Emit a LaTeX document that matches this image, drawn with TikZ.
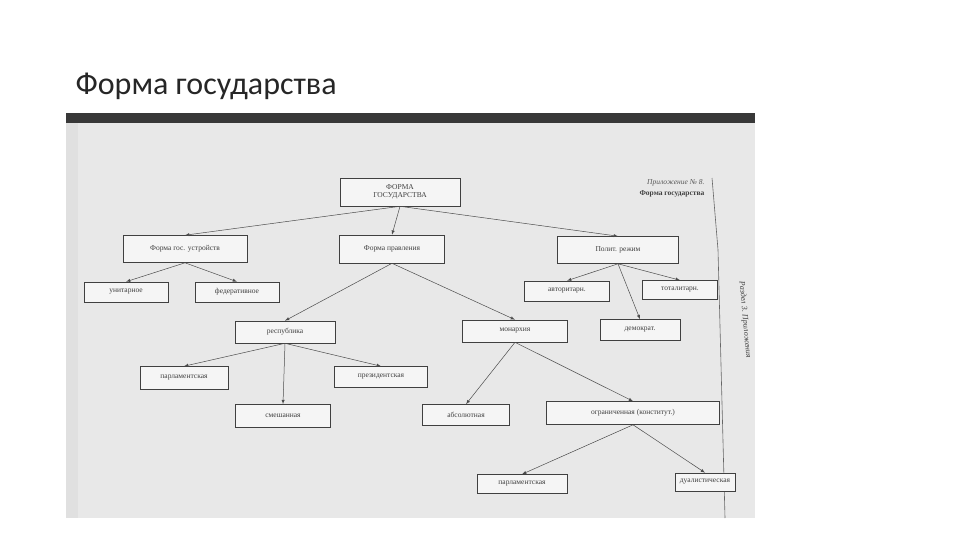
\documentclass[tikz,border=0pt]{standalone}
\usepackage{fontspec}
\setmainfont{Liberation Serif}
\newfontfamily\titlefont{Carlito}
\begin{document}
\begin{tikzpicture}[x=1pt,y=-1pt,
  bx/.style={draw=black!75,line width=0.6pt,fill=black!4,inner sep=0pt,font=\fontsize{7.5}{8.5}\selectfont,text=black!75},
  ar/.style={->,>=latex,draw=black!70,line width=0.5pt}]
\useasboundingbox (0,0) rectangle (960,540);
\fill[white] (0,0) rectangle (960,540);
\node[anchor=base west,font=\titlefont\fontsize{32}{36}\selectfont,text=black!85] (title) at (72,95) {Форма государства};
% photo
\fill[black!78] (66,113) rectangle (755,123);
\fill[black!9] (66,123) rectangle (755,518);
\fill[black!12] (66,123) rectangle (78,518);
\draw[black!60,line width=0.6pt] (712,178) -- (718,250) -- (725,518);
\node[rotate=-85,font=\fontsize{8}{9}\itshape\selectfont,text=black!75] (rz) at (745,320) {Раздел 3. Приложения};
\node[anchor=east,font=\fontsize{7.5}{9}\itshape\selectfont,text=black!65] (pr) at (708,183) {Приложение № 8.};
\node[anchor=east,font=\fontsize{7.5}{9}\bfseries\selectfont,text=black!75] (pf) at (708,194) {Форма государства};
% boxes
\node[bx,minimum width=120pt,minimum height=28pt,align=center] (root) at (400,192) {ФОРМА\\ГОСУДАРСТВА};
\node[bx,minimum width=124pt,minimum height=27pt] (f1) at (185,249) {Форма гос. устройств};
\node[bx,minimum width=105pt,minimum height=28pt] (f2) at (392,249) {Форма правления};
\node[bx,minimum width=121pt,minimum height=27pt] (f3) at (618,250) {Полит. режим};
\node[bx,minimum width=84pt,minimum height=20pt] (u) at (126,292) {унитарное};
\node[bx,minimum width=84pt,minimum height=20pt] (fed) at (237,292) {федеративное};
\node[bx,minimum width=85pt,minimum height=20pt] (avt) at (567,291) {авторитарн.};
\node[bx,minimum width=75pt,minimum height=19pt] (tot) at (680,290) {тоталитарн.};
\node[bx,minimum width=100pt,minimum height=22pt] (resp) at (285,332) {республика};
\node[bx,minimum width=105pt,minimum height=22pt] (mon) at (515,331) {монархия};
\node[bx,minimum width=80pt,minimum height=21pt] (dem) at (640,330) {демократ.};
\node[bx,minimum width=88pt,minimum height=23pt] (parl1) at (184,378) {парламентская};
\node[bx,minimum width=93pt,minimum height=21pt] (pres) at (381,377) {президентская};
\node[bx,minimum width=95pt,minimum height=23pt] (sm) at (283,416) {смешанная};
\node[bx,minimum width=87pt,minimum height=21pt] (abs) at (466,415) {абсолютная};
\node[bx,minimum width=173pt,minimum height=23pt] (ogr) at (633,413) {ограниченная (конститут.)};
\node[bx,minimum width=90pt,minimum height=19pt] (parl2) at (522,484) {парламентская};
\node[bx,minimum width=60pt,minimum height=18pt] (dual) at (705,482) {дуалистическая};
% arrows
\draw[ar] (root.south) -- (f1.north);
\draw[ar] (root.south) -- (f2.north);
\draw[ar] (root.south) -- (f3.north);
\draw[ar] (f1.south) -- (u.north);
\draw[ar] (f1.south) -- (fed.north);
\draw[ar] (f2.south) -- (resp.north);
\draw[ar] (f2.south) -- (mon.north);
\draw[ar] (f3.south) -- (avt.north);
\draw[ar] (f3.south) -- (tot.north);
\draw[ar] (f3.south) -- (dem.north);
\draw[ar] (resp.south) -- (parl1.north);
\draw[ar] (resp.south) -- (sm.north);
\draw[ar] (resp.south) -- (pres.north);
\draw[ar] (mon.south) -- (abs.north);
\draw[ar] (mon.south) -- (ogr.north);
\draw[ar] (ogr.south) -- (parl2.north);
\draw[ar] (ogr.south) -- (dual.north);
\end{tikzpicture}
\end{document}
